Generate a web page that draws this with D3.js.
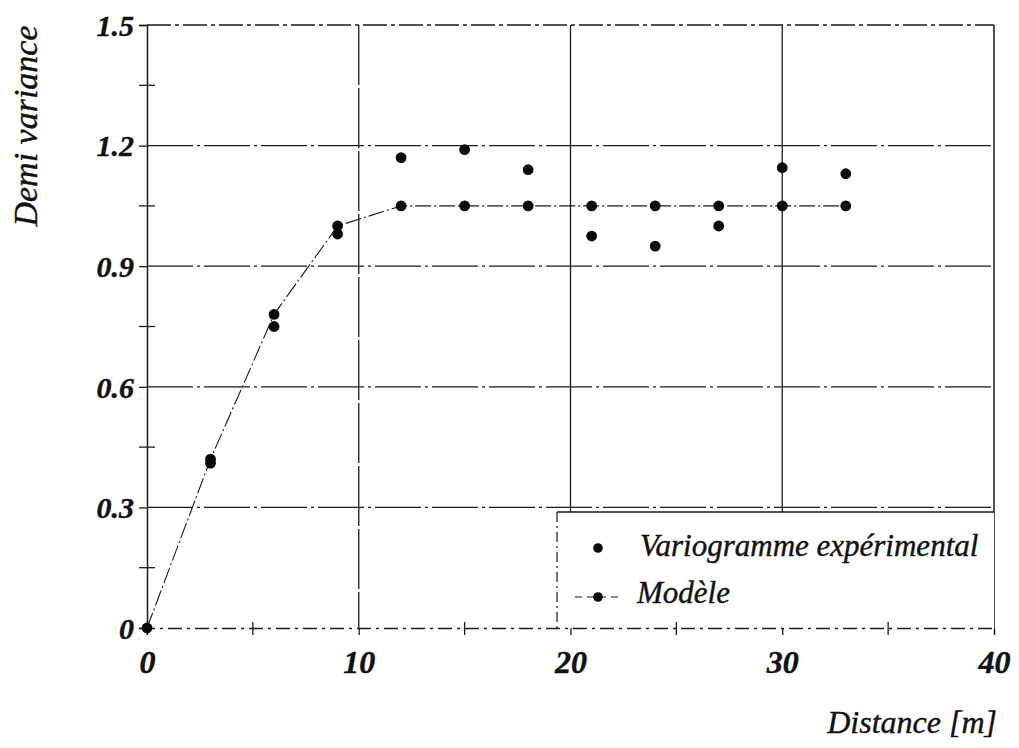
<!DOCTYPE html>
<html>
<head>
<meta charset="utf-8">
<script src="https://cdn.jsdelivr.net/npm/d3@7"></script>
<style>
  html, body { margin: 0; padding: 0; background: #fff; }
  svg { display: block; }
  text { font-family: "Liberation Serif", "Times New Roman", serif; font-style: italic; fill: #111; stroke: #111; stroke-width: 0.4px; }
</style>
</head>
<body>
<svg id="chart" width="1019" height="748"></svg>
<script>
// Lag distances (m)
const lags = [0, 3, 6, 9, 12, 15, 18, 21, 24, 27, 30, 33];
// Fitted model values at each lag
const modelValues = [0, 0.42, 0.78, 1.0, 1.05, 1.05, 1.05, 1.05, 1.05, 1.05, 1.05, 1.05];
// Experimental semivariogram (lag 0 is only drawn by the model)
const expLags = [3, 6, 9, 12, 15, 18, 21, 24, 27, 30, 33];
const expValues = [0.41, 0.75, 0.98, 1.17, 1.19, 1.14, 0.975, 0.95, 1.0, 1.145, 1.13];
// Axis ticks
const xTicks = [0, 10, 20, 30, 40];
const xMinor = [5, 15, 25, 35];
const yTicks = [0, 0.3, 0.6, 0.9, 1.2, 1.5];
const yMinor = [0.15, 0.45, 0.75, 1.05, 1.35];
const yLabels = ["0", "0.3", "0.6", "0.9", "1.2", "1.5"];
const legendLabels = ["Variogramme expérimental", "Modèle"];

const svg = d3.select("#chart");
const L = 147, R = 994, T = 25, B = 628;
const x = d3.scaleLinear().domain([0, 40]).range([L, R]);
const y = d3.scaleLinear().domain([0, 1.5]).range([B, T]);
const ink = "#1a1a1a";

// horizontal grid lines
svg.append("g").selectAll("line")
  .data(yTicks.filter(v => v > 0 && v < 1.5))
  .join("line")
  .attr("x1", L).attr("x2", R)
  .attr("y1", d => y(d)).attr("y2", d => y(d))
  .attr("stroke", ink).attr("stroke-width", 1.3)
  .attr("stroke-dasharray", "46,4,3,4");

// vertical grid lines
svg.append("g").selectAll("line")
  .data(xTicks.filter(v => v > 0 && v < 40))
  .join("line")
  .attr("x1", d => x(d)).attr("x2", d => x(d))
  .attr("y1", T).attr("y2", B)
  .attr("stroke", ink).attr("stroke-width", 1.3)
  .attr("stroke-dasharray", d => d === 10 ? "60,3" : null);

// frame: top dashed, right solid
svg.append("line").attr("x1", L).attr("x2", R).attr("y1", T).attr("y2", T)
  .attr("stroke", ink).attr("stroke-width", 1.3).attr("stroke-dasharray", "24,4,4,4");
svg.append("line").attr("x1", R).attr("x2", R).attr("y1", T).attr("y2", B)
  .attr("stroke", ink).attr("stroke-width", 1.5);

// legend box (white, hides grid beneath)
const legX = 557, legY = 512;
svg.append("rect").attr("x", legX).attr("y", legY)
  .attr("width", R - legX).attr("height", B - legY)
  .attr("fill", "#fff");
svg.append("line").attr("x1", legX).attr("x2", R).attr("y1", legY).attr("y2", legY)
  .attr("stroke", ink).attr("stroke-width", 1.3);
svg.append("line").attr("x1", legX).attr("x2", legX).attr("y1", legY).attr("y2", B)
  .attr("stroke", ink).attr("stroke-width", 1.2).attr("stroke-dasharray", "10,4,2,4");

// y axis
const yAxis = svg.append("g").attr("transform", `translate(${L},0)`)
  .call(d3.axisLeft(y).tickValues(yTicks).tickSize(8).tickPadding(5)
    .tickFormat((d, i) => yLabels[i]));
yAxis.select(".domain").attr("stroke", ink).attr("stroke-width", 1.5);
yAxis.selectAll(".tick line").attr("stroke", ink).attr("stroke-width", 1.3);
yAxis.selectAll(".tick text")
  .attr("font-size", 30).attr("font-weight", "bold")
  .attr("font-family", "Liberation Serif, serif").attr("font-style", "italic")
  .attr("fill", "#111").attr("dy", "0.34em");

// y minor ticks crossing the axis
svg.append("g").selectAll("line").data(yMinor).join("line")
  .attr("x1", L - 8).attr("x2", L + 8)
  .attr("y1", d => y(d)).attr("y2", d => y(d))
  .attr("stroke", ink).attr("stroke-width", 1.3);

// x axis
const xAxis = svg.append("g").attr("transform", `translate(0,${B})`)
  .call(d3.axisBottom(x).tickValues(xTicks).tickSize(7).tickPadding(15)
    .tickFormat(d3.format("d")));
xAxis.select(".domain").attr("stroke", ink).attr("stroke-width", 1.3)
  .attr("stroke-dasharray", "14,5,3,5");
xAxis.selectAll(".tick line").attr("stroke", ink).attr("stroke-width", 1.3);
xAxis.selectAll(".tick text")
  .attr("font-size", 32).attr("font-weight", "bold")
  .attr("font-family", "Liberation Serif, serif").attr("font-style", "italic")
  .attr("fill", "#111");

// x minor ticks crossing the axis
svg.append("g").selectAll("line").data(xMinor).join("line")
  .attr("x1", d => x(d)).attr("x2", d => x(d))
  .attr("y1", B - 6).attr("y2", B + 7)
  .attr("stroke", ink).attr("stroke-width", 1.3);

// model line
const modelPts = lags.map((d, i) => [d, modelValues[i]]);
svg.append("path")
  .datum(modelPts)
  .attr("d", d3.line().x(d => x(d[0])).y(d => y(d[1])))
  .attr("fill", "none").attr("stroke", ink).attr("stroke-width", 1.1)
  .attr("stroke-dasharray", "16,3,2,3");

// model points
svg.append("g").selectAll("circle").data(modelPts).join("circle")
  .attr("cx", d => x(d[0])).attr("cy", d => y(d[1])).attr("r", 5.4)
  .attr("fill", "#0a0a0a");

// experimental points
svg.append("g").selectAll("circle")
  .data(expLags.map((d, i) => [d, expValues[i]]))
  .join("circle")
  .attr("cx", d => x(d[0])).attr("cy", d => y(d[1])).attr("r", 5.4)
  .attr("fill", "#0a0a0a");

// legend entries
const leg = svg.append("g");
leg.append("circle").attr("cx", 598).attr("cy", 548).attr("r", 4.8).attr("fill", "#0a0a0a");
leg.append("text").attr("x", 640).attr("y", 556).attr("font-size", 31)
  .text(legendLabels[0]);
leg.append("line").attr("x1", 575).attr("x2", 618).attr("y1", 597).attr("y2", 597)
  .attr("stroke", ink).attr("stroke-width", 1.1).attr("stroke-dasharray", "7,5");
leg.append("circle").attr("cx", 598).attr("cy", 597).attr("r", 4.8).attr("fill", "#0a0a0a");
leg.append("text").attr("x", 637).attr("y", 603).attr("font-size", 31)
  .text(legendLabels[1]);

// axis titles
svg.append("text")
  .attr("transform", "translate(37,126) rotate(-90)")
  .attr("text-anchor", "middle").attr("font-size", 34)
  .text("Demi variance");
svg.append("text")
  .attr("x", 997).attr("y", 733).attr("text-anchor", "end").attr("font-size", 32)
  .text("Distance [m]");
</script>
</body>
</html>
